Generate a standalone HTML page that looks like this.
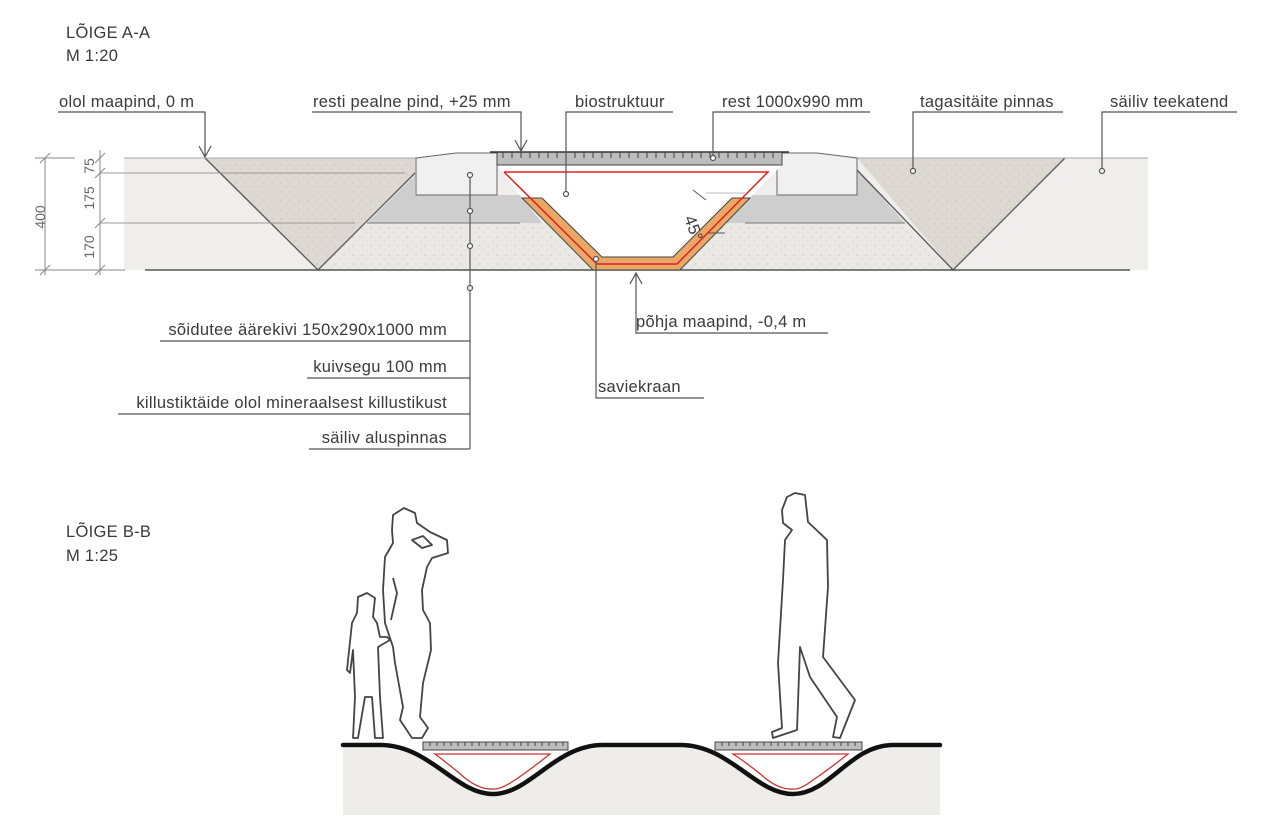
<!DOCTYPE html>
<html><head><meta charset="utf-8"><style>
html,body{margin:0;padding:0;background:#fff;}
svg{display:block;font-family:"Liberation Sans",sans-serif;}
.t{font-size:16.5px;fill:#3a3a3a;letter-spacing:0.3px;}
.ld{stroke:#555;stroke-width:1.2;fill:none;}
</style></head><body>
<svg width="1280" height="827" viewBox="0 0 1280 827" xmlns="http://www.w3.org/2000/svg">
<defs>
<pattern id="dots" width="9" height="9" patternUnits="userSpaceOnUse">
<circle cx="2" cy="3" r="0.6" fill="#b8b2a8"/><circle cx="7" cy="7" r="0.5" fill="#c4beb4"/>
</pattern>
</defs>
<!-- titles -->
<text x="66" y="38" class="t">LÕIGE A-A</text>
<text x="66" y="61" class="t">M 1:20</text>
<text x="66" y="537" class="t">LÕIGE B-B</text>
<text x="66" y="561" class="t">M 1:25</text>

<!-- Section A layers -->
<rect x="124" y="158" width="1024" height="112" fill="#efeeec"/>
<polygon points="367,223 905,223 953,270 318,270" fill="#ebe9e5"/>
<polygon points="367,223 905,223 953,270 318,270" fill="url(#dots)"/>
<!-- gray kuivsegu -->
<polygon points="415,175 415,195 520,195 542,223 367,223" fill="#cecece"/>
<polygon points="740,195 857,195 857,170 905,223 720,223" fill="#cecece"/>
<!-- V trenches -->
<polygon points="205,158 415,158 415,173 318,270" fill="#ddd8d1"/>
<polygon points="205,158 415,158 415,173 318,270" fill="url(#dots)"/>
<polyline points="205,158 318,270 415,173" fill="none" stroke="#555" stroke-width="1.3"/>
<polygon points="857,158 1065,158 953,270" fill="#ddd8d1"/>
<polygon points="857,158 1065,158 953,270" fill="url(#dots)"/>
<polyline points="857,170 953,270 1065,158" fill="none" stroke="#555" stroke-width="1.3"/>
<line x1="124" y1="158" x2="1148" y2="158" stroke="#aaa" stroke-width="1"/>
<line x1="100" y1="173" x2="405" y2="173" stroke="#999" stroke-width="1"/>
<line x1="100" y1="223" x2="355" y2="223" stroke="#999" stroke-width="1"/>
<line x1="367" y1="223" x2="520" y2="223" stroke="#777" stroke-width="1"/>
<line x1="745" y1="223" x2="905" y2="223" stroke="#777" stroke-width="1"/>
<line x1="145" y1="270" x2="1130" y2="270" stroke="#555" stroke-width="1.5"/>
<!-- curbs -->
<polygon points="416,158 456,153 497,153 497,195 416,195" fill="#f0f0f0" stroke="#666" stroke-width="1"/>
<polygon points="777,153 817,153 857,158 857,195 777,195" fill="#f0f0f0" stroke="#666" stroke-width="1"/>
<!-- trench -->
<polygon points="497,165 782,165 750,198 680,270 593,270 522,198" fill="#fff"/>
<polygon points="522,198 542,198 602,257 673,257 732,198 750,198 680,270 593,270" fill="#e9a866" stroke="#444" stroke-width="1"/>
<polyline points="504,172 768,172 677,264 597,264 504,172" fill="none" stroke="#e02020" stroke-width="1.5"/>
<!-- grate -->
<rect x="497" y="152" width="285" height="13" fill="#bdbdbd" stroke="#444" stroke-width="1"/>
<line x1="490" y1="152" x2="789" y2="152" stroke="#333" stroke-width="1.5"/>
<g stroke="#444" stroke-width="1">
<path d="M503 152v6M512 152v6M521 152v6M530 152v6M539 152v6M548 152v6M557 152v6M566 152v6M575 152v6M584 152v6M593 152v6M602 152v6M611 152v6M620 152v6M629 152v6M638 152v6M647 152v6M656 152v6M665 152v6M674 152v6M683 152v6M692 152v6M701 152v6M710 152v6M719 152v6M728 152v6M737 152v6M746 152v6M755 152v6M764 152v6M773 152v6"/>
</g>
<!-- 45 deg -->
<line x1="693" y1="190" x2="706" y2="200" stroke="#555"/>
<line x1="706" y1="193" x2="745" y2="193" stroke="#bbb"/>
<line x1="708" y1="233" x2="725" y2="233" stroke="#555"/>
<text x="0" y="0" class="t" font-size="13" transform="translate(684,218) rotate(70)">45°</text>

<!-- dimensions -->
<g stroke="#888" stroke-width="1">
<line x1="45" y1="158" x2="45" y2="275"/><line x1="100" y1="150" x2="100" y2="275"/>
<line x1="40" y1="163" x2="50" y2="153"/><line x1="40" y1="275" x2="50" y2="265"/>
<line x1="95" y1="163" x2="105" y2="153"/><line x1="95" y1="178" x2="105" y2="168"/>
<line x1="95" y1="228" x2="105" y2="218"/><line x1="95" y1="275" x2="105" y2="265"/>
<line x1="35" y1="158" x2="75" y2="158"/><line x1="35" y1="270" x2="125" y2="270"/>
</g>
<g font-size="14" fill="#666">
<text transform="translate(45,217) rotate(-90)" text-anchor="middle">400</text>
<text transform="translate(94,166) rotate(-90)" text-anchor="middle">75</text>
<text transform="translate(94,198) rotate(-90)" text-anchor="middle">175</text>
<text transform="translate(94,247) rotate(-90)" text-anchor="middle">170</text>
</g>

<!-- top labels -->
<g class="t">
<text x="59" y="107">olol maapind, 0 m</text>
<text x="313" y="107">resti pealne pind, +25 mm</text>
<text x="575" y="107">biostruktuur</text>
<text x="722" y="107">rest 1000x990 mm</text>
<text x="920" y="107">tagasitäite pinnas</text>
<text x="1110" y="107">säiliv teekatend</text>
</g>
<g class="ld">
<polyline points="58,112 205,112 205,157"/><polyline points="199,146 205,157 211,146"/>
<polyline points="312,112 521,112 521,151"/><polyline points="515,140 521,151 527,140"/>
<polyline points="673,112 566,112 566,192"/>
<polyline points="870,112 713,112 713,156"/>
<polyline points="1063,112 913,112 913,169"/>
<polyline points="1237,112 1102,112 1102,169"/>
</g>
<g fill="#fff" stroke="#555" stroke-width="1.2">
<circle cx="566" cy="194" r="2.5"/><circle cx="713" cy="158" r="2.5"/>
<circle cx="913" cy="171" r="2.5"/><circle cx="1102" cy="171" r="2.5"/>
</g>

<!-- bottom labels -->
<g class="ld">
<line x1="470" y1="175" x2="470" y2="449"/>
<polyline points="160,341 470,341"/><polyline points="307,378 470,378"/>
<polyline points="118,414 470,414"/><polyline points="309,449 470,449"/>
<polyline points="828,333 636,333 636,273"/><polyline points="630,284 636,273 642,284"/>
<polyline points="704,398 596,398 596,261"/>
</g>
<g fill="#fff" stroke="#555" stroke-width="1.2">
<circle cx="470" cy="175" r="2.5"/><circle cx="470" cy="211" r="2.5"/>
<circle cx="470" cy="246" r="2.5"/><circle cx="470" cy="288" r="2.5"/>
<circle cx="596" cy="259" r="2.5"/>
</g>
<g class="t" text-anchor="end">
<text x="447" y="335">sõidutee äärekivi 150x290x1000 mm</text>
<text x="447" y="372">kuivsegu 100 mm</text>
<text x="447" y="408">killustiktäide olol mineraalsest killustikust</text>
<text x="447" y="443">säiliv aluspinnas</text>
</g>
<g class="t">
<text x="636" y="327">põhja maapind, -0,4 m</text>
<text x="598" y="392">saviekraan</text>
</g>

<!-- Section B -->
<path d="M343,748 L380,748 C430,748 455,795 493,795 C530,795 555,748 603,748 L680,748 C730,748 755,795 793,795 C830,795 850,748 893,748 L940,748 L940,815 L343,815 Z" fill="#efedea"/>
<path d="M423,750 L568,750 C555,750 530,795 493,795 C455,795 430,750 423,750Z" fill="#fff"/>
<path d="M715,750 L862,750 C850,750 830,795 793,795 C755,795 730,750 715,750Z" fill="#fff"/>
<rect x="423" y="742" width="145" height="8" fill="#bdbdbd" stroke="#444" stroke-width="1"/>
<rect x="715" y="742" width="147" height="8" fill="#bdbdbd" stroke="#444" stroke-width="1"/>
<g stroke="#444" stroke-width="1">
<path d="M423,742h145M715,742h147"/>
<path d="M430 742v4M437 742v4M444 742v4M451 742v4M458 742v4M465 742v4M472 742v4M479 742v4M486 742v4M493 742v4M500 742v4M507 742v4M514 742v4M521 742v4M528 742v4M535 742v4M542 742v4M549 742v4M556 742v4M563 742v4"/>
<path d="M722 742v4M729 742v4M736 742v4M743 742v4M750 742v4M757 742v4M764 742v4M771 742v4M778 742v4M785 742v4M792 742v4M799 742v4M806 742v4M813 742v4M820 742v4M827 742v4M834 742v4M841 742v4M848 742v4M855 742v4"/>
</g>
<path d="M435,754 L550,754 Q530,770 515,780 Q500,790 493,789 Q480,790 465,778 Q450,765 435,754 Z" fill="#fff" stroke="#d03030" stroke-width="1.3"/>
<path d="M733,754 L848,754 Q828,770 813,780 Q800,790 793,789 Q780,790 765,778 Q750,765 733,754 Z" fill="#fff" stroke="#d03030" stroke-width="1.3"/>
<path d="M343,745 L380,745 C430,745 455,794 493,794 C530,794 555,745 603,745 L680,745 C730,745 755,794 793,794 C830,794 850,745 893,745 L940,745" fill="none" stroke="#111" stroke-width="4.5" stroke-linecap="round"/>

<!-- silhouettes -->
<g fill="none" stroke="#444" stroke-width="1.8" stroke-linejoin="round">
<path d="M393,515 L404,508 L415,513 L417,523 L430,532 L447,540 L448,553 L432,558 L427,567 L422,590 L423,610 L430,623 L431,650 L423,683 L420,717 L428,728 L422,738 L412,738 L400,720 L403,707 L395,663 L393,647 L385,623 L383,590 L385,557 L393,543 L392,530 Z"/>
<path d="M412,540 L423,536 L432,545 L422,548 Z"/>
<path d="M393,578 L397,593 L391,620"/>
<path d="M367,593 L375,598 L373,617 L377,623 L380,637 L387,637 L390,640 L378,647 L380,697 L383,738 L375,738 L372,697 L365,697 L358,738 L353,738 L355,697 L353,650 L350,673 L347,670 L352,623 L357,613 L358,597 Z"/>
<path d="M787,497 L795,493 L805,495 L808,522 L827,540 L828,587 L823,657 L855,700 L840,738 L833,737 L837,717 L810,677 L800,647 L797,730 L773,738 L772,732 L782,728 L778,663 L783,580 L785,540 L792,530 L783,523 L782,510 Z"/>
</g>
</svg>
</body></html>
